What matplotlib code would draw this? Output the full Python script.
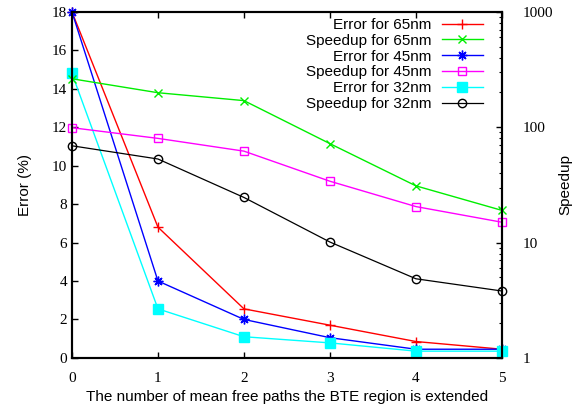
import matplotlib
matplotlib.use("Agg")
import matplotlib.pyplot as plt
from matplotlib.ticker import FixedLocator, FixedFormatter, LogLocator, NullFormatter

# extension in mean free paths
x = [0, 1, 2, 3, 4, 5]

err_65 = [18.0, 6.8, 2.55, 1.7, 0.85, 0.45]
err_45 = [18.0, 4.0, 2.0, 1.05, 0.45, 0.45]
err_32 = [14.8, 2.55, 1.1, 0.78, 0.35, 0.35]

spd_65 = [263, 199, 170, 72, 31, 19]
spd_45 = [99, 80, 62, 34, 20.5, 15]
spd_32 = [69, 53, 24.6, 10.1, 4.85, 3.8]

spd_ticks = [1, 10, 100, 1000]
spd_labels = ["1", "10", "100", "1000"]

serif = "Liberation Serif"
sans = "Liberation Sans"

fig = plt.figure(figsize=(5.85, 4.09), dpi=100)
ax = fig.add_axes([0.123, 0.125, 0.735, 0.846])
ax2 = ax.twinx()

lines = []
l, = ax.plot(x, err_65, color="red", marker="+", ms=7, lw=1, clip_on=False, label="Error for 65nm")
lines.append(l)
l, = ax2.plot(x, spd_65, color="#00ee00", marker="x", ms=6, lw=1, clip_on=False, label="Speedup for 65nm")
lines.append(l)
l, = ax.plot(x, err_45, color="blue", marker=(8, 2, 0), ms=7, lw=1, clip_on=False, label="Error for 45nm")
lines.append(l)
l, = ax2.plot(x, spd_45, color="magenta", marker="s", ms=6, mfc="none", lw=1, clip_on=False, label="Speedup for 45nm")
lines.append(l)
l, = ax.plot(x, err_32, color="cyan", marker="s", ms=6.5, lw=1, clip_on=False, label="Error for 32nm")
lines.append(l)
l, = ax2.plot(x, spd_32, color="black", marker="o", ms=6, mfc="none", lw=0.9, clip_on=False, label="Speedup for 32nm")
lines.append(l)

ax.set_xlim(0, 5)
ax.set_ylim(0, 18)
ax.set_xticks(range(6))
ax.set_yticks(range(0, 19, 2))
ax2.set_yscale("log")
ax2.set_ylim(1, 1000)
ax2.yaxis.set_major_locator(FixedLocator(spd_ticks))
ax2.yaxis.set_major_formatter(FixedFormatter(spd_labels))
ax2.yaxis.set_minor_locator(LogLocator(base=10, subs=(2, 3, 4, 5, 6, 7, 8, 9)))
ax2.yaxis.set_minor_formatter(NullFormatter())

ax.tick_params(axis="x", direction="in", top=True, length=4, width=1, pad=10, labelsize=11)
ax.tick_params(axis="y", direction="in", right=False, length=4, width=1, labelsize=11)
ax2.tick_params(axis="y", which="major", direction="in", length=4, width=1, pad=15, labelsize=11)
ax2.tick_params(axis="y", which="minor", direction="in", length=2.5, width=0.8)
for lab in ax.get_xticklabels() + ax.get_yticklabels() + ax2.get_yticklabels():
    lab.set_fontfamily(serif)

for sp in ax.spines.values():
    sp.set_linewidth(1.5)
for sp in ax2.spines.values():
    sp.set_linewidth(1.5)

ax.set_xlabel("The number of mean free paths the BTE region is extended", fontfamily=sans, fontsize=11, labelpad=4)
ax.set_ylabel("Error (%)", fontfamily=sans, fontsize=11, labelpad=14)
ax2.set_ylabel("Speedup", fontfamily=sans, fontsize=11, labelpad=4)

leg = ax2.legend(handles=lines, loc="upper right", bbox_to_anchor=(1 - 13 / 430, 1.0),
                 frameon=False, markerfirst=False, prop={"family": sans, "size": 11},
                 handlelength=2.7, labelspacing=0.12, borderaxespad=0.0, handletextpad=0.65)
for t in leg.get_texts():
    t.set_ha("right")

fig.savefig("out.png", dpi=100)
